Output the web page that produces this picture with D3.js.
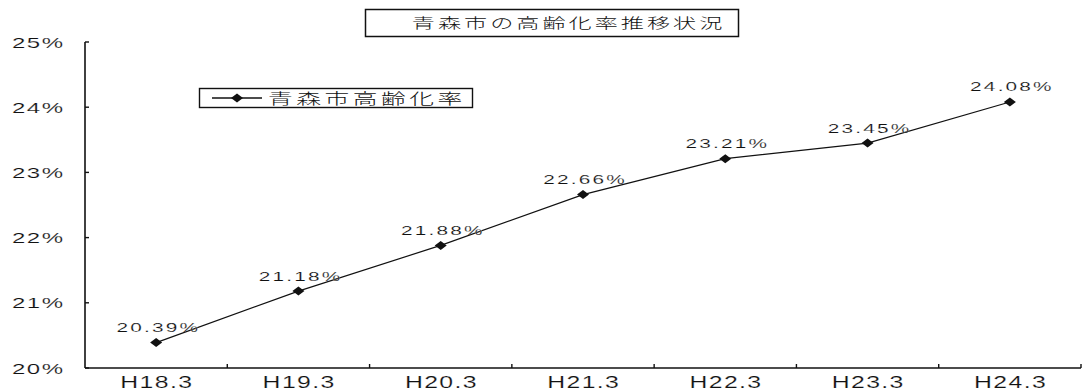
<!DOCTYPE html>
<html>
<head>
<meta charset="utf-8">
<script src="https://cdn.jsdelivr.net/npm/d3@7"></script>
<style>
  html, body { margin: 0; padding: 0; background: #fff; }
  svg { display: block; }
</style>
</head>
<body>
<svg id="chart" width="1083" height="392"></svg>
<script>
// 青森市の高齢化率 (各年3月末時点)
const categories = ["H18.3", "H19.3", "H20.3", "H21.3", "H22.3", "H23.3", "H24.3"];
const rates = [20.39, 21.18, 21.88, 22.66, 23.21, 23.45, 24.08];
const yTicks = [20, 21, 22, 23, 24, 25];
const titleText = "青森市の高齢化率推移状況";
const seriesName = "青森市高齢化率";

const latin = "'Liberation Sans', Arial, sans-serif";
const cjk = "'Noto Sans CJK JP', 'Noto Sans', sans-serif";

const svg = d3.select("#chart");
const plot = { left: 85, right: 1081, top: 42, bottom: 368 };

const x = d3.scaleBand().domain(categories).range([plot.left, plot.right]).padding(0);
const y = d3.scaleLinear().domain([20, 25]).range([plot.bottom, plot.top]);

// wide-set text: glyphs stretched by sx, the rest of the width (up to `wide`
// times the natural width) given as extra letter spacing; a hairline white
// outline keeps the stretched strokes light
function wideText(parent, px, py, str, opts) {
  const sx = opts.sx;
  const g = parent.append("g")
    .attr("transform", `translate(${px},${py}) scale(${sx},1)`);
  const t = g.append("text")
    .attr("x", 0).attr("y", 0)
    .attr("text-anchor", opts.anchor || "middle")
    .style("font-family", opts.family || latin)
    .style("font-size", opts.size + "px")
    .style("font-weight", opts.weight || 400)
    .style("fill", "#111")
    .style("stroke", "#fff")
    .style("stroke-width", opts.thin == null ? 0.15 : opts.thin)
    .text(str);
  const natural = t.node().getComputedTextLength();
  t.attr("textLength", natural * opts.wide / sx).attr("lengthAdjust", "spacing");
  return g;
}

// axes
const axisG = svg.append("g");
axisG.append("line")
  .attr("x1", plot.left).attr("x2", plot.left)
  .attr("y1", y(25)).attr("y2", y(20))
  .attr("stroke", "#111").attr("stroke-width", 1.6);
axisG.append("line")
  .attr("x1", plot.left).attr("x2", plot.right)
  .attr("y1", y(20)).attr("y2", y(20))
  .attr("stroke", "#111").attr("stroke-width", 1.6);

// y ticks (pointing into the plot) and labels
yTicks.forEach(t => {
  axisG.append("line")
    .attr("x1", plot.left).attr("x2", plot.left + 4)
    .attr("y1", y(t)).attr("y2", y(t))
    .attr("stroke", "#111").attr("stroke-width", 1.4);
  wideText(axisG, 63, y(t) + 5.5, t + "%", { sx: 1.6, wide: 1.7, size: 15, anchor: "end" });
});

// x ticks at category boundaries
categories.forEach((c, i) => {
  if (i === 0) return;
  axisG.append("line")
    .attr("x1", x(c)).attr("x2", x(c))
    .attr("y1", y(20)).attr("y2", y(20) - 4)
    .attr("stroke", "#111").attr("stroke-width", 1.4);
});
axisG.append("line")
  .attr("x1", plot.right).attr("x2", plot.right)
  .attr("y1", y(20)).attr("y2", y(20) - 4)
  .attr("stroke", "#111").attr("stroke-width", 1.4);

categories.forEach(c => {
  wideText(axisG, x(c) + x.bandwidth() / 2, 388, c, { sx: 1.55, wide: 1.68, size: 16 });
});

// series line
const cx = c => x(c) + x.bandwidth() / 2;
const line = d3.line().x((d, i) => cx(categories[i])).y(d => y(d));
svg.append("path")
  .datum(rates)
  .attr("d", line)
  .attr("fill", "none")
  .attr("stroke", "#111")
  .attr("stroke-width", 1.2);

// diamond markers
const diamond = "M0,-4.5 L6,0 L0,4.5 L-6,0 Z";
svg.append("g").selectAll("path")
  .data(rates)
  .join("path")
  .attr("d", diamond)
  .attr("transform", (d, i) => `translate(${cx(categories[i])},${y(d)})`)
  .attr("fill", "#111");

// value labels
const labelG = svg.append("g");
rates.forEach((v, i) => {
  wideText(labelG, cx(categories[i]) + 1, y(v) - 10.5, v.toFixed(2) + "%", { sx: 1.6, wide: 1.85, size: 13 });
});

// title box
const titleG = svg.append("g");
titleG.append("rect")
  .attr("x", 365.5).attr("y", 9.5).attr("width", 373).attr("height", 27)
  .attr("fill", "#fff").attr("stroke", "#111").attr("stroke-width", 1.5);
wideText(titleG, 567, 28, titleText, { sx: 1.65, wide: 1.85, size: 14, family: cjk, weight: 300, thin: 0 });

// legend
const legG = svg.append("g");
legG.append("rect")
  .attr("x", 199.5).attr("y", 88.5).attr("width", 273).attr("height", 19)
  .attr("fill", "#fff").attr("stroke", "#111").attr("stroke-width", 1.4);
legG.append("line")
  .attr("x1", 212).attr("x2", 262).attr("y1", 98).attr("y2", 98)
  .attr("stroke", "#111").attr("stroke-width", 1.4);
legG.append("path")
  .attr("d", diamond)
  .attr("transform", "translate(237,98)")
  .attr("fill", "#111");
wideText(legG, 268, 104, seriesName, { sx: 1.65, wide: 1.85, size: 15, family: cjk, weight: 300, thin: 0, anchor: "start" });
</script>
</body>
</html>
